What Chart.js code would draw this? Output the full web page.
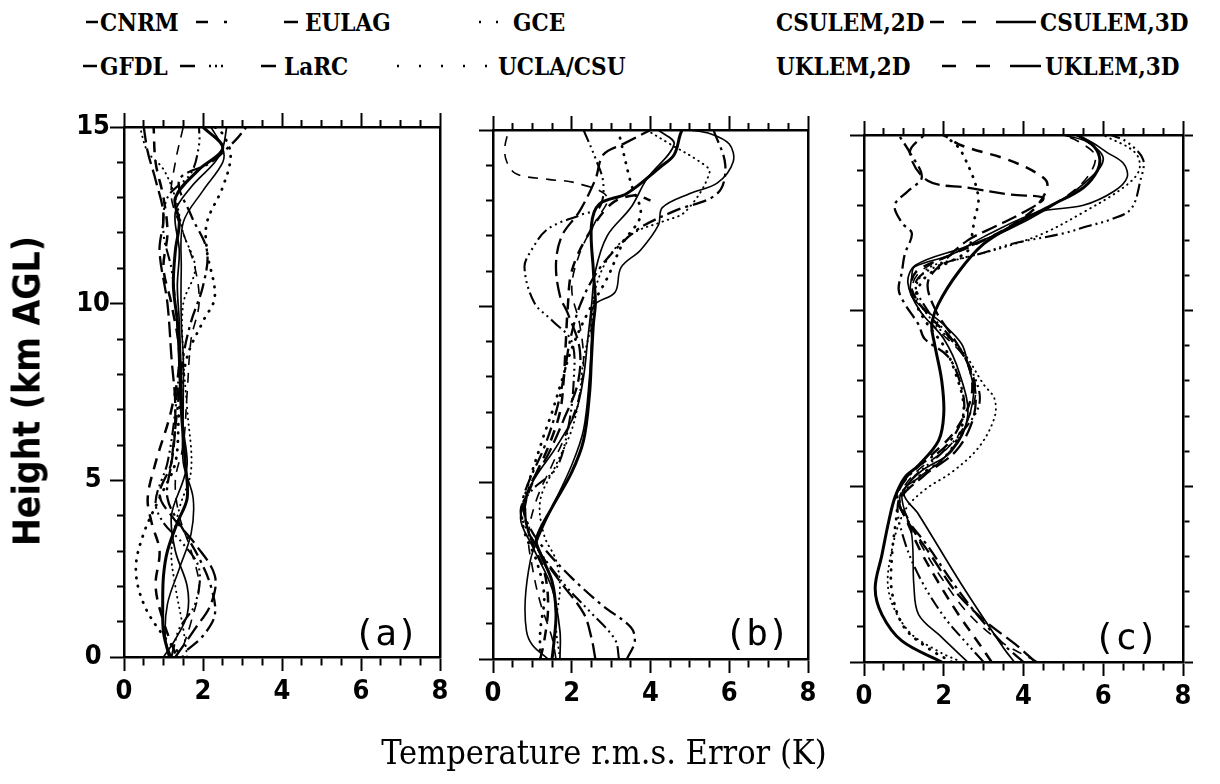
<!DOCTYPE html>
<html><head><meta charset="utf-8">
<script src="https://cdn.jsdelivr.net/npm/chart.js@4/dist/chart.umd.min.js"></script>
<style>
html,body{margin:0;padding:0;background:#fff;width:1220px;height:784px;overflow:hidden;position:relative}
canvas{position:absolute}
.t{position:absolute;white-space:nowrap;color:#000;line-height:1}
.leg{font-family:"DejaVu Serif Condensed","DejaVu Serif",serif;font-stretch:condensed;font-weight:bold;font-size:24px}
.plab{font-family:"DejaVu Sans Mono",monospace;font-size:36px;transform:translate(-50%,-50%)}
</style></head><body>
<svg id="legsvg" width="1220" height="90" style="position:absolute;left:0;top:0"></svg>
<div id="root"></div>
<script>
// ---------- categories / series names ----------
const seriesNames = ['CNRM','EULAG','GCE','GFDL','LaRC','UCLA/CSU','CSULEM,2D','CSULEM,3D','UKLEM,2D','UKLEM,3D'];
const panelLetters = ['(a)','(b)','(c)'];
const xTickLabels = [0,2,4,6,8];
const yTickLabels = [0,5,10,15];

// ---------- panel (a): [rms error K, height km] ----------
const a_CNRM   = [[1.0,0],[1.3,0.5],[1.6,1.2],[1.6,2],[1.3,3],[1.2,4],[1.5,5],[1.6,5.5],[1.5,6.5],[1.45,8],[1.4,9.5],[1.35,10.5],[1.4,11.5],[1.3,12.6],[1.7,13.3],[2.3,14.0],[2.5,14.4],[2.6,15]];
const a_EULAG  = [[1.6,0.2],[2.0,0.6],[2.3,1.2],[2.2,2],[1.9,2.8],[1.5,3.6],[1.1,4.5],[1.2,5.5],[1.35,7],[1.5,8.5],[1.7,9.5],[2.0,10.5],[2.1,11.5],[1.7,12.5],[1.4,13.5],[2.2,14],[2.8,14.6],[3.1,15]];
const a_GCE    = [[1.5,0],[1.0,0.6],[0.5,1.5],[0.3,2.5],[0.5,3.5],[0.9,4.5],[1.3,5.5],[1.4,7],[1.6,8.5],[2.0,9.5],[2.3,10.2],[2.1,11.5],[2.1,12.3],[2.5,13.3],[2.7,14.2],[2.5,14.8],[2.3,15]];
const a_GFDL   = [[1.3,0],[1.8,0.8],[2.2,1.5],[2.3,2.3],[1.8,3.2],[1.2,4],[0.9,4.6],[1.2,5.5],[1.3,7],[1.2,8.5],[1.1,10],[0.9,11.5],[1.0,12.5],[0.8,13.5],[0.6,14.3],[0.5,15]];
const a_LaRC   = [[1.2,0],[1.4,0.8],[1.8,1.5],[1.9,2.5],[1.5,3.2],[1.0,3.8],[0.8,4.4],[1.1,5.5],[1.3,7],[1.4,8.5],[1.3,10],[1.2,11],[1.0,12],[1.1,13],[1.7,13.7],[1.9,14.5],[1.9,15]];
const a_UCLA   = [[1.6,0],[1.5,0.8],[1.3,2],[1.2,3],[1.4,4.2],[1.7,5.3],[1.6,7],[1.5,8.5],[1.5,10],[1.8,11],[1.5,12],[1.3,13],[1.0,13.8],[0.6,14.3],[0.4,15]];
const a_CSULEM2= [[1.15,0],[1.0,0.7],[0.98,1.5],[1.0,2.3],[1.1,3],[1.35,3.8],[1.6,4.5],[1.55,5.5],[1.45,7],[1.4,8.5],[1.35,9.5],[1.25,10.5],[1.3,11.5],[1.4,12.3],[1.3,13],[1.9,13.8],[2.5,14.4],[2.0,15]];
const a_CSULEM3= [[1.3,0.1],[1.0,1],[0.8,2],[0.9,3],[0.7,3.8],[0.6,4.5],[0.8,5.5],[1.2,7],[1.4,8.5],[1.2,10],[1.0,11],[1.1,12],[1.0,13],[0.8,14],[0.75,15]];
const a_UKLEM2 = [[1.2,0],[1.05,0.5],[1.1,1.5],[1.4,2.5],[1.7,3.5],[1.75,4.5],[1.5,5.5],[1.5,7],[1.5,8.5],[1.45,9.5],[1.45,11],[1.5,12.3],[2.0,13.2],[2.5,14.0],[2.5,14.4],[2.2,15]];
const a_UKLEM3 = [[1.5,0.3],[1.7,1],[1.9,2],[1.7,3],[1.4,4],[1.3,5],[1.5,6],[1.6,7.5],[1.7,9],[1.9,10],[1.8,11],[1.5,12],[1.2,13],[1.3,14],[1.5,15]];

// ---------- panel (b) ----------
const b_CNRM   = [[1.7,0],[1.7,0.8],[1.5,2],[1.0,3.2],[0.7,4],[1.0,5],[1.6,6],[2.1,7],[2.3,8],[2.4,9],[2.5,10],[2.6,11],[2.9,12],[3.5,12.8],[3.9,13.6],[4.6,14.6],[4.2,15]];
const b_EULAG  = [[3.4,0],[3.6,0.5],[3.5,0.9],[2.8,1.5],[2.0,2.3],[1.25,3.2],[0.9,3.8],[0.75,4.4],[0.9,5.0],[1.3,6],[1.6,7],[1.8,8],[1.95,9],[2.2,10],[2.6,10.9],[3.1,11.6],[3.7,12.2],[4.6,12.7],[5.7,13.2],[5.9,14],[5.6,15]];
const b_GCE    = [[1.2,0],[1.2,0.8],[1.3,1.8],[1.1,2.8],[0.8,3.6],[0.75,4.3],[1.25,6.2],[1.5,7],[1.75,7.9],[2.0,8.8],[2.4,9.8],[2.9,10.8],[3.3,11.8],[3.75,12.6],[3.5,13.5],[3.2,14.9]];
const b_GFDL   = [[2.6,0],[2.5,0.6],[2.3,1.3],[1.7,2.2],[1.2,3],[0.85,3.8],[0.9,4.8],[1.4,5.8],[1.8,6.8],[2.15,7.8],[2.2,8.8],[1.9,9.8],[1.7,10.3],[1.6,11.2],[1.75,12.0],[2.2,12.7],[2.6,13.6],[2.8,14.3],[3.3,14.6],[4.0,15]];
const b_LaRC   = [[3.2,0],[3.1,0.55],[2.5,1.3],[1.9,2.0],[1.4,2.7],[1.0,3.4],[0.7,4.2],[1.0,4.8],[1.6,5.4],[1.9,6.5],[2.05,7.9],[2.0,9.0],[1.5,9.6],[1.05,10.1],[0.8,11.1],[0.98,11.6],[1.4,12.2],[2.25,12.6],[2.7,12.8],[2.8,13.5],[2.6,14.2],[2.3,15]];
const b_UCLA   = [[1.7,0],[1.6,1],[1.7,2],[1.6,2.8],[1.3,3.5],[1.2,4.5],[1.6,5.5],[2.0,6.5],[2.2,7.5],[2.3,8.5],[2.5,9.5],[2.6,10.5],[3.0,11.5],[3.6,12.1],[4.3,12.4],[4.9,12.7],[5.5,13.8],[5.25,14.1],[4.5,14.6],[3.9,15]];
const b_CSULEM2= [[1.5,0],[1.55,0.5],[1.6,1.3],[1.5,2.2],[1.2,3.0],[1.1,3.4],[1.5,4.3],[2.0,5.3],[2.3,6.2],[2.45,7.5],[2.5,8.5],[2.55,9.5],[2.6,10.1],[2.55,11],[2.5,12.3],[2.7,12.9],[3.4,13.2],[4.25,13.95],[4.6,14.3],[4.75,14.85],[4.8,15]];
const b_CSULEM3= [[1.2,0],[1.3,0.5],[1.4,1.5],[1.3,2.5],[1.0,3.3],[0.8,4.2],[1.0,5],[1.4,6],[1.7,7],[1.8,8],[1.85,9],[1.9,10],[2.0,11],[2.4,12],[3.0,12.9],[3.6,13.15],[4.0,13.0]];
const b_UKLEM2 = [[1.4,0],[1.0,0.4],[0.85,0.8],[0.82,1.7],[0.95,2.8],[1.1,3.3],[1.5,4.3],[2.0,5.5],[2.3,6.5],[2.45,8],[2.5,9],[2.55,10],[3.1,10.4],[3.25,11.1],[3.75,11.6],[4.2,12.3],[4.3,12.8],[5.0,13.2],[5.7,13.5],[6.1,14.1],[6.0,14.6],[5.5,14.9],[5.0,15]];
const b_UKLEM3 = [[1.6,0],[1.5,0.6],[1.2,1.6],[1.0,2.6],[0.9,3.5],[1.1,4.5],[1.5,5.5],[1.9,6.5],[2.2,7.5],[2.3,8.5],[2.2,9.5],[2.0,10.5],[2.2,11.5],[2.6,12.4],[2.9,13.1],[2.1,13.5],[1.4,13.6],[0.6,13.75],[0.35,14.1],[0.3,14.5],[0.4,15]];

// ---------- panel (c) ----------
const c_CNRM   = [[3.77,0],[3.5,0.4],[2.45,2.2],[1.37,4.2],[1.0,4.8],[1.4,5.4],[2.2,6.0],[2.6,7.0],[2.4,8.2],[2.0,9.2],[1.4,10.0],[1.1,10.8],[1.3,11.3],[2.5,11.8],[3.6,12.3],[4.6,12.9],[5.5,13.6],[6.0,14.3],[5.6,14.8],[5.0,15]];
const c_EULAG  = [[4.0,0],[3.5,0.5],[2.8,1.4],[2.2,2.3],[1.6,3.3],[1.0,4.2],[0.85,4.8],[1.3,5.5],[2.1,6.2],[2.5,7.1],[2.4,8.0],[2.1,8.7],[1.52,9.2],[1.37,9.6],[1.02,10.2],[0.87,10.6],[0.95,11.1],[1.02,11.6],[1.2,12.2],[0.95,12.5],[0.77,13.0],[1.1,13.4],[1.45,13.8],[1.15,14.5],[0.87,15]];
const c_GCE    = [[2.2,0],[1.6,0.4],[1.0,1.0],[0.7,2.0],[0.7,3.0],[0.8,4.0],[0.9,4.6],[1.4,5.3],[2.0,5.8],[2.4,6.5],[2.5,7.3],[2.3,8.2],[2.0,9.0],[1.6,9.6],[1.3,10.3],[1.5,10.9],[2.0,11.3],[2.6,11.7],[2.7,12.1],[2.77,12.6],[2.87,13.1],[2.82,13.5],[2.7,13.9],[2.5,14.4],[2.37,14.65],[2.0,15]];
const c_GFDL   = [[4.3,0],[3.8,0.5],[3.0,1.2],[2.3,2.0],[1.7,3.0],[1.1,4.0],[0.9,4.6],[1.5,5.3],[2.3,6.0],[2.7,6.8],[2.8,7.6],[2.6,8.5],[2.2,9.3],[1.8,10.0],[1.6,10.8],[2.0,11.4],[2.6,12.0],[3.3,12.4],[4.0,12.8],[4.5,13.2],[3.7,13.3],[2.6,13.5],[1.6,13.7],[1.15,14.5],[1.5,15]];
const c_LaRC   = [[3.0,0],[2.6,0.5],[2.0,1.3],[1.4,2.4],[1.0,3.5],[0.85,4.5],[1.2,5.2],[1.9,5.9],[2.5,6.6],[2.9,7.4],[2.7,8.3],[2.2,9.2],[1.6,10.0],[1.3,10.8],[1.9,11.3],[3.0,11.65],[3.7,11.9],[5.0,12.2],[5.6,12.4],[6.2,12.6],[6.7,12.9],[6.93,13.7],[7.0,14.3],[6.6,14.8],[6.2,15]];
const c_UCLA   = [[2.45,0],[1.87,0.3],[1.1,0.9],[0.62,2.0],[0.7,3.2],[1.02,4.3],[1.52,4.9],[2.2,5.4],[2.87,6.1],[3.27,6.95],[3.27,7.5],[3.0,7.9],[2.5,8.8],[1.8,9.6],[1.3,10.5],[1.6,11.2],[2.5,11.5],[3.5,11.8],[4.5,12.2],[5.5,12.8],[6.5,13.5],[6.9,14.0],[6.8,14.5],[6.0,15]];
const c_CSULEM2= [[1.95,0],[0.95,0.6],[0.45,1.35],[0.28,2.1],[0.45,3.05],[0.62,4.0],[0.78,4.7],[1.02,5.25],[1.37,5.6],[1.87,6.3],[2.0,7.05],[1.95,8.0],[1.77,9.05],[1.7,9.6],[1.87,10.2],[2.37,11.1],[3.0,11.9],[3.86,12.5],[4.7,13.0],[5.5,13.5],[5.86,14.0],[5.9,14.4],[5.7,14.75],[5.35,15]];
const c_CSULEM3= [[3.2,0],[2.9,0.5],[2.4,1.3],[1.9,2.2],[1.4,3.2],[1.0,4.2],[0.8,4.7],[1.1,5.3],[1.7,5.9],[2.3,6.6],[2.7,7.6],[2.6,8.5],[2.1,9.3],[1.6,9.9],[1.2,10.6],[1.3,11.1],[2.0,11.5],[3.0,12.0],[3.8,12.5],[4.35,13.0],[4.6,13.6],[4.35,13.9],[3.6,14.3],[2.45,14.7],[2.0,15]];
const c_UKLEM2 = [[2.6,0],[1.95,0.7],[1.37,1.35],[1.25,2.2],[1.2,3.6],[0.95,4.8],[1.37,5.25],[2.0,5.8],[2.5,6.6],[2.75,7.65],[2.6,8.5],[2.45,9.05],[2.0,9.6],[1.2,10.4],[1.2,11.0],[1.27,11.25],[2.2,11.6],[3.0,12.1],[4.35,12.8],[5.5,13.0],[6.27,13.4],[6.6,13.8],[6.5,14.2],[6.1,14.5],[5.7,14.8],[5.3,15]];
const c_UKLEM3 = [[4.35,0],[3.4,0.6],[2.6,1.4],[2.0,2.3],[1.5,3.2],[1.1,4.1],[0.9,4.7],[1.3,5.4],[2.1,6.1],[2.6,6.9],[2.8,7.8],[2.5,8.7],[1.9,9.4],[1.4,10.0],[1.2,10.6],[1.4,11.1],[2.2,11.6],[3.0,12.0],[4.0,12.6],[5.0,13.2],[5.6,13.8],[5.8,14.4],[5.4,14.8],[5.0,15]];

const panelData = [
  [a_CNRM,a_EULAG,a_GCE,a_GFDL,a_LaRC,a_UCLA,a_CSULEM2,a_CSULEM3,a_UKLEM2,a_UKLEM3],
  [b_CNRM,b_EULAG,b_GCE,b_GFDL,b_LaRC,b_UCLA,b_CSULEM2,b_CSULEM3,b_UKLEM2,b_UKLEM3],
  [c_CNRM,c_EULAG,c_GCE,c_GFDL,c_LaRC,c_UCLA,c_CSULEM2,c_CSULEM3,c_UKLEM2,c_UKLEM3]
];

// ---------- styles ----------
const lineStyles = {
  'CNRM':      {w:1.7, dash:[], cap:'butt'},
  'EULAG':     {w:2.3, dash:[14,5,3,5], cap:'butt'},
  'GCE':       {w:2.8, dash:[0.5,8], cap:'round'},
  'GFDL':      {w:2.3, dash:[16,6], cap:'butt'},
  'LaRC':      {w:2.1, dash:[13,4,2,4,2,4,2,4], cap:'butt'},
  'UCLA/CSU':  {w:1.9, dash:[0.5,5], cap:'round'},
  'CSULEM,2D': {w:3.0, dash:[], cap:'butt'},
  'CSULEM,3D': {w:2.5, dash:[11,8], cap:'butt'},
  'UKLEM,2D':  {w:1.6, dash:[], cap:'butt'},
  'UKLEM,3D':  {w:1.6, dash:[10,8], cap:'butt'}
};

const panels = [
  {left:0,   top:100, w:466, h:640, wl:124, wr:26, ht:27, hb:83, yLabels:true,  rightTicks:false, lab:[386,633]},
  {left:466, top:100, w:370, h:640, wl:27,  wr:28, ht:30, hb:81, yLabels:false, rightTicks:false, lab:[757,633]},
  {left:836, top:100, w:384, h:640, wl:28,  wr:37, ht:35, hb:78, yLabels:false, rightTicks:true,  lab:[1126,637]}
];

const tickFont = {family:"'DejaVu Sans Condensed','DejaVu Sans',sans-serif", size:27, weight:'bold'};

function xAxis(pos, size, showLabels){
  const tl = 14, minor = 7;
  return {
    type:'linear', position:pos, min:0, max:8,
    afterFit: s => { s.height = size; },
    border:{display:true, color:'#000', width:2.5},
    grid:{drawOnChartArea:false, drawTicks:true, tickLength:tl, tickWidth:2, tickColor:'#000',
      tickBorderDash: ctx => (ctx.tick && Math.abs(ctx.tick.value % 2) < 1e-9) ? [] : (pos==='top' ? [0,tl-minor,minor,200] : [minor,200])},
    ticks:{display:showLabels, stepSize:0.5, autoSkip:false, maxRotation:0, minRotation:0, padding:5, color:'#000', font:tickFont,
      callback: v => xTickLabels.includes(v) ? String(v) : ''}
  };
}
function yAxis(pos, size, showLabels, drawTicks){
  const tl = pos==='left' ? 14 : 10, minor = pos==='left' ? 7 : 5;
  return {
    type:'linear', position:pos, min:0, max:15,
    afterFit: s => { s.width = size; },
    border:{display:true, color:'#000', width:2.5},
    grid:{drawOnChartArea:false, drawTicks:drawTicks, tickLength:tl, tickWidth:2, tickColor:'#000',
      tickBorderDash: ctx => (ctx.tick && ctx.tick.value % 5 === 0) ? [] : (pos==='left' ? [0,tl-minor,minor,200] : [minor,200])},
    ticks:{display:showLabels, stepSize:1, autoSkip:false, padding:0, crossAlign:'center', color:'#000', font:tickFont,
      callback: v => yTickLabels.includes(v) ? String(v) : ''}
  };
}

const root = document.getElementById('root');
panels.forEach((p, pi) => {
  const cv = document.createElement('canvas');
  cv.width = p.w; cv.height = p.h;
  cv.style.left = p.left + 'px'; cv.style.top = p.top + 'px';
  cv.style.width = p.w + 'px'; cv.style.height = p.h + 'px';
  root.appendChild(cv);
  const datasets = seriesNames.map((name, si) => {
    const st = lineStyles[name];
    return {
      label:name,
      data: panelData[pi][si].map(([x,y]) => ({x, y})),
      borderColor:'#000', borderWidth:st.w, borderDash:st.dash, borderCapStyle:st.cap,
      pointRadius:0, tension:0.35, fill:false, xAxisID:'x', yAxisID:'y'
    };
  });
  new Chart(cv, {
    type:'line',
    data:{datasets},
    options:{
      responsive:false, animation:false, events:[],
      layout:{padding:0},
      plugins:{legend:{display:false}, tooltip:{enabled:false}},
      scales:{
        x: xAxis('bottom', p.hb, true),
        x2: xAxis('top', p.ht, false),
        y: yAxis('left', p.wl, p.yLabels, true),
        y2: yAxis('right', p.wr, false, p.rightTicks)
      }
    }
  });
  const lab = document.createElement('div');
  lab.className = 't plab';
  lab.style.left = p.lab[0] + 'px'; lab.style.top = p.lab[1] + 'px';
  lab.textContent = panelLetters[pi];
  document.body.appendChild(lab);
});

// ---------- legend ----------
const legendItems = [
  {name:'CNRM',      tx:100,  row:0, segs:[[86,98]]},
  {name:'EULAG',     tx:305,  row:0, segs:[[196,208],[224,227],[284,298]]},
  {name:'GCE',       tx:513,  row:0, segs:[[479,481],[496,498]]},
  {name:'GFDL',      tx:100,  row:1, segs:[[83,97]]},
  {name:'LaRC',      tx:284,  row:1, segs:[[180,195],[209,211],[215,217],[221,223],[261,276]]},
  {name:'UCLA/CSU',  tx:498,  row:1, segs:[[397,399],[419,421],[441,443],[463,465],[485,487]]},
  {name:'CSULEM,2D', tx:776,  row:0, segs:[]},
  {name:'CSULEM,3D', tx:1040, row:0, segs:[[930,944],[962,976],[996,1036]]},
  {name:'UKLEM,2D',  tx:776,  row:1, segs:[]},
  {name:'UKLEM,3D',  tx:1045, row:1, segs:[[942,956],[976,990],[1010,1041]]}
];
const rowY = [22, 66];
const svg = document.getElementById('legsvg');
let path = '';
legendItems.forEach(it => {
  it.segs.forEach(([x1,x2]) => { path += `M${x1} ${rowY[it.row]} H${x2} `; });
  const d = document.createElement('div');
  d.className = 't leg';
  d.style.left = it.tx + 'px';
  d.style.top = (rowY[it.row] - 11) + 'px';
  d.textContent = it.name;
  document.body.appendChild(d);
});
svg.innerHTML = `<path d="${path}" stroke="#000" stroke-width="2.4" fill="none"/>`;

// ---------- axis titles ----------
const xt = document.createElement('div');
xt.className = 't';
xt.style.cssText += 'left:604px;top:752px;transform:translate(-50%,-50%);font-family:"DejaVu Serif Condensed","DejaVu Serif",serif;font-stretch:condensed;font-size:34px;';
xt.textContent = 'Temperature r.m.s. Error (K)';
document.body.appendChild(xt);
const yt = document.createElement('div');
yt.className = 't';
yt.style.cssText += 'left:27px;top:391px;transform:translate(-50%,-50%) rotate(-90deg);font-family:"DejaVu Sans Condensed","DejaVu Sans",sans-serif;font-stretch:condensed;font-weight:bold;font-size:37px;';
yt.textContent = 'Height (km AGL)';
document.body.appendChild(yt);
</script>
</body></html>
